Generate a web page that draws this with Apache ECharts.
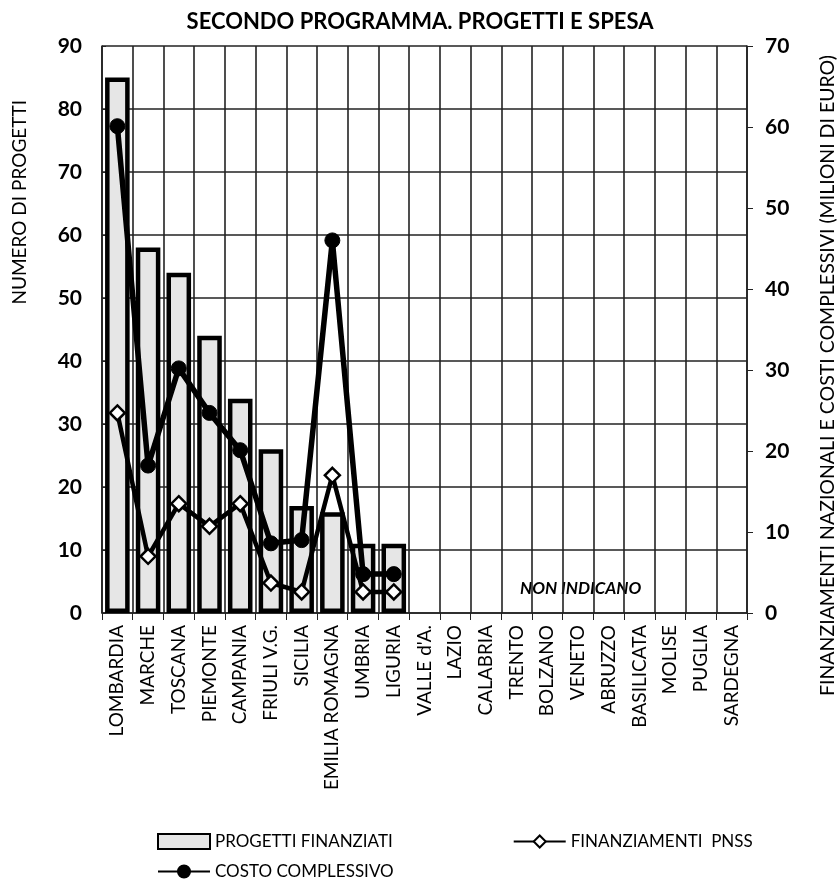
<!DOCTYPE html>
<html>
<head>
<meta charset="utf-8">
<script src="https://cdn.jsdelivr.net/npm/echarts@6/dist/echarts.min.js"></script>
<style>
html,body{margin:0;padding:0;background:#fff;}
#chart{width:840px;height:885px;}
</style>
</head>
<body>
<div id="chart"></div>
<script>
const categories = ['LOMBARDIA','MARCHE','TOSCANA','PIEMONTE','CAMPANIA','FRIULI V.G.','SICILIA','EMILIA ROMAGNA','UMBRIA','LIGURIA',"VALLE d'A.",'LAZIO','CALABRIA','TRENTO','BOLZANO','VENETO','ABRUZZO','BASILICATA','MOLISE','PUGLIA','SARDEGNA'];
const progettiFinanziati = [85,58,54,44,34,26,17,16,11,11,null,null,null,null,null,null,null,null,null,null,null];
const finanziamentiPNSS = [24.7,7.0,13.5,10.7,13.5,3.7,2.6,17.0,2.6,2.6,null,null,null,null,null,null,null,null,null,null,null];
const costoComplessivo = [60.1,18.2,30.2,24.7,20.1,8.6,9.0,46.0,4.8,4.8,null,null,null,null,null,null,null,null,null,null,null];
const leftTicks = {min:0,max:90,interval:10};
const rightTicks = {min:0,max:70,interval:10};

const FONT = 'Lato, "Open Sans", sans-serif';
const chart = echarts.init(document.getElementById('chart'), null, {renderer:'canvas'});
const option = {
  backgroundColor:'#fff',
  animation:false,
  title:{text:'SECONDO PROGRAMMA. PROGETTI E SPESA',left:'center',top:6,
    textStyle:{fontFamily:FONT,fontWeight:'bold',fontSize:22,color:'#000'}},
  grid:{left:102,right:93,top:46,bottom:272},
  legend:[
    {data:[{name:'PROGETTI FINANZIATI',icon:'rect'},'FINANZIAMENTI  PNSS'],left:152,top:828,itemWidth:52,itemHeight:15,itemGap:120,
     textStyle:{fontFamily:FONT,fontSize:17,color:'#000'}},
    {data:['COSTO COMPLESSIVO'],left:152,top:858,itemWidth:52,itemHeight:15,
     textStyle:{fontFamily:FONT,fontSize:17,color:'#000'}}
  ],
  xAxis:{type:'category',data:categories,boundaryGap:true,
    axisLine:{lineStyle:{color:'#222',width:1.6}},
    axisTick:{show:true,interval:0,length:7,lineStyle:{color:'#222'}},
    splitLine:{show:true,interval:0,lineStyle:{color:'#222',width:1.6}},
    axisLabel:{interval:0,rotate:90,fontFamily:FONT,fontSize:19,color:'#000',margin:12}},
  yAxis:[
    {type:'value',min:leftTicks.min,max:leftTicks.max,interval:leftTicks.interval,
     axisLine:{show:true,lineStyle:{color:'#222',width:1.6}},
     axisTick:{show:true,inside:true,length:4,lineStyle:{color:'#222'}},
     splitLine:{show:true,lineStyle:{color:'#222',width:1.6}},
     axisLabel:{fontFamily:FONT,fontSize:21,fontWeight:'bold',color:'#000',margin:20}},
    {type:'value',min:rightTicks.min,max:rightTicks.max,interval:rightTicks.interval,position:'right',
     axisLine:{show:true,lineStyle:{color:'#222',width:1.6}},
     axisTick:{show:true,length:6,lineStyle:{color:'#222'}},
     splitLine:{show:false},
     axisLabel:{fontFamily:FONT,fontSize:21,fontWeight:'bold',color:'#000',margin:18}}
  ],
  graphic:[
    {type:'text',left:10,top:100,rotation:Math.PI/2,
     style:{text:'NUMERO DI PROGETTI',font:'19px '+FONT,fill:'#000'}},
    {type:'text',right:2,top:55,rotation:Math.PI/2,
     style:{text:'FINANZIAMENTI NAZIONALI E COSTI COMPLESSIVI (MILIONI DI EURO)',font:'19.5px '+FONT,fill:'#000'}},
    {type:'text',left:520,top:580,
     style:{text:'NON INDICANO',font:'italic bold 17px '+FONT,fill:'#000'}}
  ],
  series:[
    {name:'PROGETTI FINANZIATI',type:'bar',yAxisIndex:0,data:progettiFinanziati,barWidth:'80%',
     itemStyle:{color:'#e6e6e6',borderColor:'#000',borderWidth:4.5},z:2},
    {name:'FINANZIAMENTI  PNSS',type:'line',yAxisIndex:1,data:finanziamentiPNSS,
     symbol:'diamond',symbolSize:15,lineStyle:{color:'#000',width:4.5},
     itemStyle:{color:'#fff',borderColor:'#000',borderWidth:2.5},z:4},
    {name:'COSTO COMPLESSIVO',type:'line',yAxisIndex:1,data:costoComplessivo,
     symbol:'circle',symbolSize:15,lineStyle:{color:'#000',width:5.5},
     itemStyle:{color:'#000',borderColor:'#000',borderWidth:1},z:5}
  ]
};
chart.setOption(option);
</script>
</body>
</html>
